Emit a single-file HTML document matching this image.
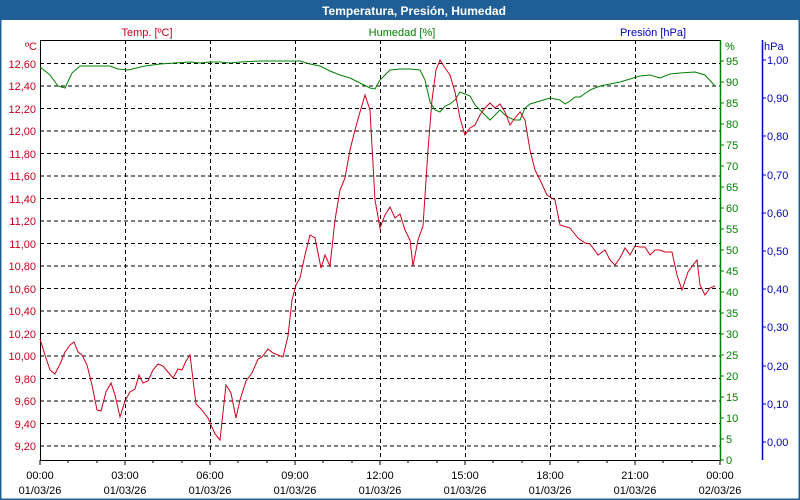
<!DOCTYPE html>
<html><head><meta charset="utf-8"><style>
body{margin:0;width:800px;height:500px;overflow:hidden;background:#fff}
svg{display:block;font-family:"Liberation Sans",sans-serif}
</style></head><body>
<svg width="800" height="500" viewBox="0 0 800 500">
<rect x="0" y="0" width="800" height="500" fill="#fff"/>
<rect x="0.5" y="0.5" width="799" height="499" fill="none" stroke="#1f5f96" stroke-width="2"/>
<rect x="0" y="0" width="800" height="20" fill="#1f5f96"/>
<text x="414" y="15" font-size="12" font-weight="bold" fill="#fff" text-anchor="middle">Temperatura, Presión, Humedad</text>
<g font-size="11">
<text x="147" y="36" fill="#c8001e" text-anchor="middle">Temp. [ºC]</text>
<text x="402" y="36" fill="#008000" text-anchor="middle">Humedad [%]</text>
<text x="653" y="36" fill="#0000c0" text-anchor="middle">Presión [hPa]</text>
</g>
<g stroke="#000" stroke-dasharray="4,3" stroke-width="1">
<line x1="40" x2="720" y1="63.5" y2="63.5"/><line x1="40" x2="720" y1="86" y2="86"/><line x1="40" x2="720" y1="108.5" y2="108.5"/><line x1="40" x2="720" y1="131" y2="131"/><line x1="40" x2="720" y1="153.5" y2="153.5"/><line x1="40" x2="720" y1="176" y2="176"/><line x1="40" x2="720" y1="198.5" y2="198.5"/><line x1="40" x2="720" y1="221" y2="221"/><line x1="40" x2="720" y1="243.5" y2="243.5"/><line x1="40" x2="720" y1="266" y2="266"/><line x1="40" x2="720" y1="288.5" y2="288.5"/><line x1="40" x2="720" y1="311" y2="311"/><line x1="40" x2="720" y1="333.5" y2="333.5"/><line x1="40" x2="720" y1="356" y2="356"/><line x1="40" x2="720" y1="378.5" y2="378.5"/><line x1="40" x2="720" y1="401" y2="401"/><line x1="40" x2="720" y1="423.5" y2="423.5"/><line x1="40" x2="720" y1="446" y2="446"/>
<line x1="125.5" x2="125.5" y1="40" y2="460"/><line x1="210.5" x2="210.5" y1="40" y2="460"/><line x1="295.5" x2="295.5" y1="40" y2="460"/><line x1="380.5" x2="380.5" y1="40" y2="460"/><line x1="465.5" x2="465.5" y1="40" y2="460"/><line x1="550.5" x2="550.5" y1="40" y2="460"/><line x1="635.5" x2="635.5" y1="40" y2="460"/>
</g>
<line x1="40.5" y1="40" x2="40.5" y2="460" stroke="#000"/>
<line x1="40" y1="40.5" x2="720" y2="40.5" stroke="#000"/>
<line x1="40" y1="460.5" x2="720" y2="460.5" stroke="#000"/>
<line x1="720.5" y1="40" x2="720.5" y2="461" stroke="#008000" stroke-width="1.5"/>
<line x1="762.5" y1="40" x2="762.5" y2="460" stroke="#0000c0" stroke-width="1.5"/>
<g stroke="#000">
<path d="M40 460v5M68 460v3M97 460v3M125 460v5M153 460v3M182 460v3M210 460v5M238 460v3M267 460v3M295 460v5M323 460v3M352 460v3M380 460v5M408 460v3M437 460v3M465 460v5M493 460v3M522 460v3M550 460v5M578 460v3M607 460v3M635 460v5M663 460v3M692 460v3M720 460v5"/>
</g>
<g font-size="11" fill="#c8001e" text-anchor="end">
<text x="37" y="50">ºC</text>
<text x="36" y="68">12,60</text><text x="36" y="90">12,40</text><text x="36" y="113">12,20</text><text x="36" y="135">12,00</text><text x="36" y="158">11,80</text><text x="36" y="180">11,60</text><text x="36" y="203">11,40</text><text x="36" y="225">11,20</text><text x="36" y="248">11,00</text><text x="36" y="270">10,80</text><text x="36" y="293">10,60</text><text x="36" y="315">10,40</text><text x="36" y="338">10,20</text><text x="36" y="360">10,00</text><text x="36" y="383">9,80</text><text x="36" y="405">9,60</text><text x="36" y="428">9,40</text><text x="36" y="450">9,20</text>
</g>
<g font-size="11" fill="#008000">
<text x="725" y="50">%</text>
<path d="M720 61h4M720 82h4M720 103h4M720 124h4M720 145h4M720 166h4M720 187h4M720 208h4M720 229h4M720 250h4M720 271h4M720 292h4M720 313h4M720 334h4M720 355h4M720 376h4M720 397h4M720 418h4M720 439h4M720 460h4" stroke="#008000"/>
<text x="726" y="65">95</text><text x="726" y="86">90</text><text x="726" y="107">85</text><text x="726" y="128">80</text><text x="726" y="149">75</text><text x="726" y="170">70</text><text x="726" y="191">65</text><text x="726" y="212">60</text><text x="726" y="233">55</text><text x="726" y="254">50</text><text x="726" y="275">45</text><text x="726" y="296">40</text><text x="726" y="317">35</text><text x="726" y="338">30</text><text x="726" y="359">25</text><text x="726" y="380">20</text><text x="726" y="401">15</text><text x="726" y="422">10</text><text x="726" y="443">5</text><text x="726" y="464">0</text>
</g>
<g font-size="11" fill="#0000c0">
<text x="764" y="50">hPa</text>
<path d="M762 60h4M762 98h4M762 136h4M762 175h4M762 213h4M762 251h4M762 289h4M762 327h4M762 366h4M762 404h4M762 442h4" stroke="#0000c0"/>
<text x="767" y="64">1,00</text><text x="767" y="102">0,90</text><text x="767" y="140">0,80</text><text x="767" y="179">0,70</text><text x="767" y="217">0,60</text><text x="767" y="255">0,50</text><text x="767" y="293">0,40</text><text x="767" y="331">0,30</text><text x="767" y="370">0,20</text><text x="767" y="408">0,10</text><text x="767" y="446">0,00</text>
</g>
<g font-size="11" fill="#000" text-anchor="middle">
<text x="40" y="479">00:00</text><text x="40" y="494">01/03/26</text>
<text x="125" y="479">03:00</text><text x="125" y="494">01/03/26</text>
<text x="210" y="479">06:00</text><text x="210" y="494">01/03/26</text>
<text x="295" y="479">09:00</text><text x="295" y="494">01/03/26</text>
<text x="380" y="479">12:00</text><text x="380" y="494">01/03/26</text>
<text x="465" y="479">15:00</text><text x="465" y="494">01/03/26</text>
<text x="550" y="479">18:00</text><text x="550" y="494">01/03/26</text>
<text x="635" y="479">21:00</text><text x="635" y="494">01/03/26</text>
<text x="720" y="479">00:00</text><text x="720" y="494">02/03/26</text>
</g>
<polyline fill="none" stroke="#008000" stroke-width="1" points="40,67 50,75 58,86 65,88 72,73 80,66 95,66 110,66 118,69 128,70 145,66 160,64 175,63 190,62 200,63 210,62 220,62 230,63 240,62 260,61 280,61 300,61 310,64 320,66 330,71 340,75 350,78 360,83 370,88 375,89 380,80 390,70 400,69 410,69 420,70 425,80 430,102 435,110 440,112 445,106 450,104 455,100 460,92 465,94 470,96 475,105 480,110 485,115 490,120 495,115 500,110 505,115 510,118 515,120 520,120 525,108 530,104 540,101 550,98 560,100 565,104 570,101 575,97 580,97 590,90 600,86 610,84 620,82 630,79 640,76 650,75 660,78 670,74 680,73 695,72 705,75 715,86"/>
<polyline fill="none" stroke="#d0001e" stroke-width="1" points="40,339 45,355 50,370 55,374 60,364 65,352 70,345 74,342 78,352 82,355 87,365 92,385 97,410 101,411 106,392 111,383 115,395 120,417 125,401 130,392 135,389 139,375 143,383 148,381 153,370 158,364 163,366 168,372 173,378 178,369 182,370 186,361 190,355 196,404 201,409 208,418 215,434 220,440 226,385 231,393 236,418 240,400 246,381 252,373 258,359 262,357 268,349 273,353 278,355 283,357 288,336 292,300 296,285 300,278 305,255 310,235 315,238 321,268 325,255 330,266 335,220 340,190 345,178 350,150 355,130 360,112 365,95 370,110 375,200 380,228 385,215 390,207 395,218 400,214 405,230 410,240 413,266 418,240 423,226 428,150 432,100 436,70 440,60 445,68 450,75 455,92 460,118 465,135 470,128 475,125 480,115 485,108 490,103 495,108 500,104 505,112 510,125 515,118 520,112 525,120 530,150 535,170 540,180 547,195 555,200 560,225 570,228 578,238 585,243 590,244 598,255 605,250 610,260 615,265 620,258 625,248 630,255 635,246 640,247 645,247 650,255 655,250 660,250 665,252 672,252 677,275 682,290 688,272 693,265 697,260 700,285 705,295 710,288 715,286"/>
</svg>
</body></html>
